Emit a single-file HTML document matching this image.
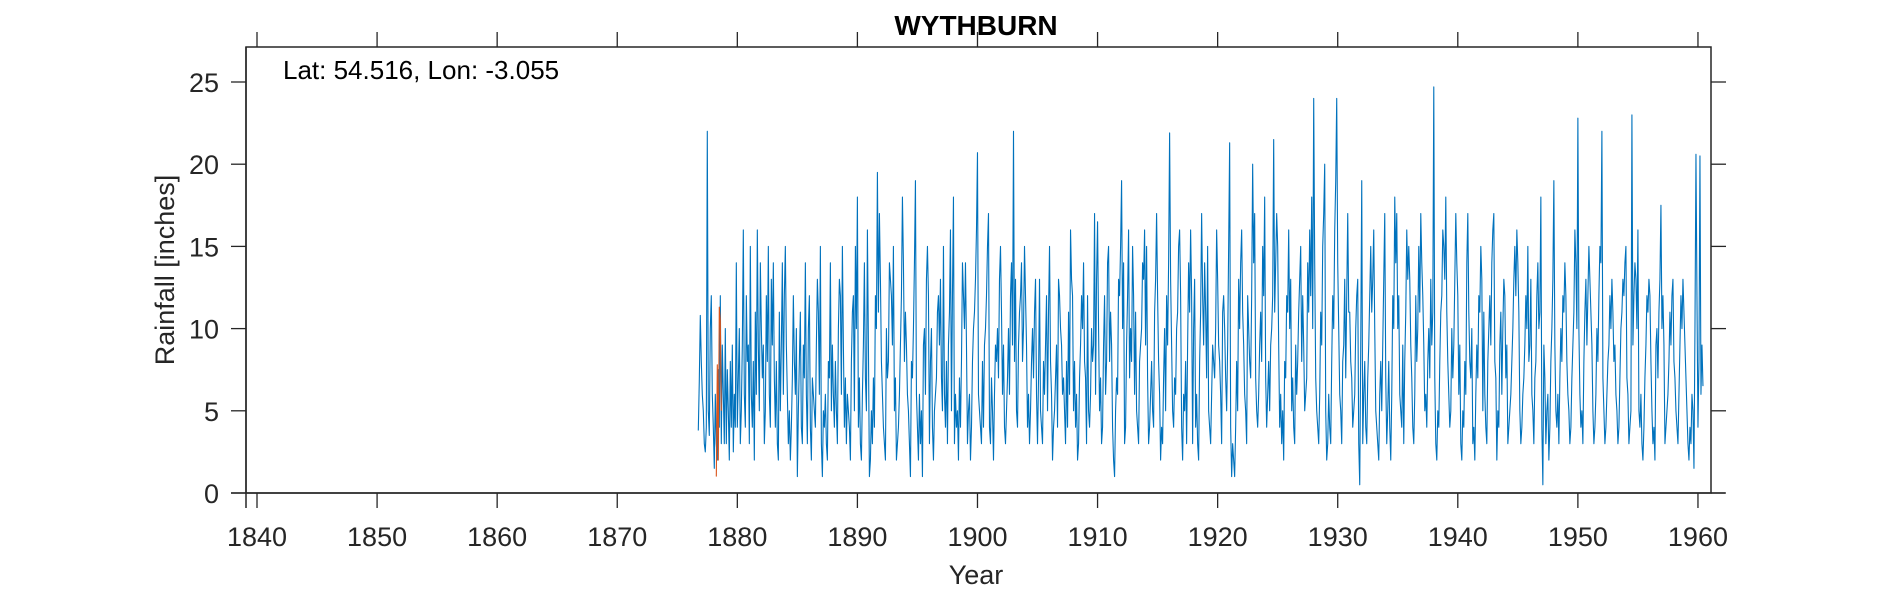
<!DOCTYPE html>
<html><head><meta charset="utf-8"><style>
body{margin:0;background:#fff;}
svg{display:block;font-family:"Liberation Sans",Arial,sans-serif;}
</style></head><body>
<svg id="chart" width="1890" height="591">
<rect width="1890" height="591" fill="#fff"/>
<g id="plot"></g>
<g id="axes"></g>
<text x="976" y="35" text-anchor="middle" font-size="28" font-weight="bold" fill="#000">WYTHBURN</text>
<text x="283" y="79" font-size="26" fill="#000">Lat: 54.516, Lon: -3.055</text>
<text x="976" y="584" text-anchor="middle" font-size="27" fill="#262626">Year</text>
<text x="0" y="0" transform="translate(174,270) rotate(-90)" text-anchor="middle" font-size="27" fill="#262626">Rainfall [inches]</text>
</svg>
<script>
const xTicks=[1840,1850,1860,1870,1880,1890,1900,1910,1920,1930,1940,1950,1960];
const yTicks=[0,5,10,15,20,25];
const blueStart=1876+9/12;
const blueValues=[3.8,6.8,10.8,
8,6,5,3,2.5,4,22,5,3.5,10,12,6,
4,1.5,6,3,2,7.5,4,12,3,9,6,3,
10,3,7.5,5,2,8,4,9,2.5,6,4,14,
4,7,10,3,5,9,16,6,4,12,8,9,
3,15,6,4,8,2,11,6,16,9,5,14,
10,7,9,3,5,12,8,15,6,4,13,9,
14,7,4,8,3,2,11,5,9,14,6,12,
15,9,6,3,5,2,4,7,12,8,6,10,
1,5,8,11,4,3,9,7,14,6,3,10,
12,4,2,7,6,5,4,9,13,11,6,15,
3,1,5,4,6,3,2,8,7,14,5,9,
6,4,8,5,3,10,13,12,6,15,9,4,
7,3,6,5,4,2,8,11,12,5,15,10,
18,4,7,3,2,6,9,14,7,5,16,9,
1,2,5,3,7,4,12,10,19.5,11,17,13,
8,6,4,3,2,10,7,8,14,13,12,9,
15,5,7,2,3,4,6,9,12,18,14,8,
11,9,6,5,3,1,8,7,10,14,19,6,
4,2,6,3,5,1,9,10,6,13,15,12,
3,8,10,4,2,5,6,7,11,12,9,13,
7,5,15,6,4,8,3,9,11,16,5,12,
18,3,6,4,5,2,7,4,8,14,12,10,
14,9,3,5,6,2,4,8,10,11,13,16,
20.7,6,5,4,3,8,4,9,10,12,15,17,
4,3,7,5,2,6,9,8,10,7,13,15,
11,6,9,4,3,5,7,10,6,12,14,9,
22,8,13,5,4,9,11,12,14,8,10,15,
12,9,4,6,3,5,8,10,7,11,13,6,
3,7,13,5,4,3,8,6,9,12,5,11,
15,8,6,2,4,5,7,9,4,13,12,10,
9,6,7,5,3,8,4,11,6,16,13,12,
5,8,4,6,2,3,7,9,12,10,14,8,
7,3,12,5,4,6,10,8,9,17,6,13,
16.5,10,5,7,3,4,9,12,6,8,14,15,
8,11,9,4,2,1,5,7,6,13,12,15,
19,10,14,3,4,9,12,16,7,10,8,15,
12,6,11,5,4,3,8,9,10,14,13,16,
9,15,7,3,4,6,8,5,4,11,13,17,
12,8,6,2,4,3,7,10,5,12,9,14,
21.9,13,9,5,4,7,6,10,11,15,16,12,
4,2,6,5,8,3,9,14,11,16,12,3,
10,13,4,6,3,2,8,11,17,12,9,14,
11,7,15,5,4,3,6,9,8,7,10,16,
13,9,8,6,3,11,12,10,7,5,9,15,
21.3,4,1,3,2,1,4,8,5,13,10,14,
16,11,9,6,5,3,12,10,8,7,12,20,
14,17,7,5,4,6,9,11,8,15,12,18,
7,4,6,8,5,9,10,12,21.5,11,14,17,
15,9,4,6,3,5,2,8,7,12,11,16,
10,13,5,7,4,3,9,6,8,11,13,15,
8,12,9,5,6,7,14,11,16,12,18,10,
24,14,7,5,4,3,6,11,9,15,17,20,
5,2,3,6,4,3,8,12,10,16,19,24,
14,10,6,5,3,8,9,13,7,12,17,11,
11,8,7,4,5,6,10,12,13,3,0.5,9,
19,3,6,8,4,3,7,9,12,15,11,13,
16,10,5,4,3,2,6,8,5,9,13,17,
7,3,5,8,4,2,6,12,10,18,14,17,
10,12,6,5,4,9,3,8,11,16,13,15,
13,9,7,4,3,6,12,8,10,15,11,17,
14,12,9,5,6,4,8,10,7,13,9,11,
24.7,7,3,2,5,4,8,11,12,16,15,13,
18,11,8,6,4,5,10,7,9,13,17,14,
12,6,9,3,2,5,4,8,6,14,17,11,
8,7,10,3,4,2,6,9,7,12,11,15,
13,5,11,6,4,3,8,10,12,9,14,16,
17,8,7,2,5,4,9,11,6,10,13,12,
7,9,3,4,5,6,8,10,13,15,12,16,
14,11,5,3,4,6,7,9,12,10,15,8,
9,13,6,5,3,7,8,12,14,10,11,18,
4,0.5,9,7,3,5,6,2,4,8,10,13,
19,9,5,4,6,3,7,10,8,12,11,14,
12,8,6,5,3,4,7,9,11,16,14,10,
22.8,10,6,4,5,3,8,11,13,9,12,15,
13,11,9,5,3,4,6,10,8,12,15,14,
22,7,5,3,4,6,8,9,12,10,13,11,
8,9,6,5,3,4,7,10,11,13,12,14,
15,7,6,3,4,5,23,9,12,14,13,10,
16,5,4,6,3,2,4,7,9,12,11,13,
12,8,5,3,4,2,9,10,7,11,13,17.5,
10,12,9,3,4,5,6,8,11,9,12,13,
8,7,5,4,3,6,9,12,10,13,11,9,
7,5,3,2,4,3,6,5,1.5,10,20.6,12,
4,8,20.5,6,9,6.5];
const redStart=1878+3/12;
const redValues=[1,7.8,2,11.3,10.5,5];

const L=246,R=1711,T=47,B=493;
function xs(yr){return 257+(yr-1840)*12.008;}
function ys(v){return B-v*16.44;}
const NS='http://www.w3.org/2000/svg';
const plot=document.getElementById('plot');
const axes=document.getElementById('axes');
function mk(tag,attrs,parent){const e=document.createElementNS(NS,tag);for(const k in attrs)e.setAttribute(k,attrs[k]);parent.appendChild(e);return e;}

function series(start,vals,color,name){
  let d='';
  vals.forEach((v,i)=>{d+=(i?'L':'M')+xs(start+i/12).toFixed(2)+','+ys(v).toFixed(2);});
  const p=mk('path',{d:d,fill:'none',stroke:color,'stroke-width':1.1,'stroke-linejoin':'round'},plot);
  
  
}
series(blueStart,blueValues,'#0072BD','rainfall-series');
series(redStart,redValues,'#D95319','secondary-series');

const box=mk('rect',{x:L,y:T,width:R-L,height:B-T,fill:'none',stroke:'#262626','stroke-width':1.5},axes);


const xl=mk('line',{x1:231,x2:1725,y1:B,y2:B,stroke:'#262626','stroke-width':1.5},axes);


const yl=mk('line',{x1:L,x2:L,y1:T,y2:508,stroke:'#262626','stroke-width':1.5},axes);



xTicks.forEach(t=>{
  const x=xs(t);
  const a=mk('line',{x1:x,x2:x,y1:B,y2:B+15,stroke:'#262626','stroke-width':1.3},axes);
  
  
  const b=mk('line',{x1:x,x2:x,y1:T,y2:T-15,stroke:'#262626','stroke-width':1.3},axes);
  
  
  const tx=mk('text',{x:x,y:546,'text-anchor':'middle','font-size':27,fill:'#262626'},axes);
  tx.textContent=t;
  
  
});
yTicks.forEach(t=>{
  const y=ys(t);
  const a=mk('line',{x1:L,x2:L-15,y1:y,y2:y,stroke:'#262626','stroke-width':1.3},axes);
  
  
  const b=mk('line',{x1:R,x2:R+15,y1:y,y2:y,stroke:'#262626','stroke-width':1.3},axes);
  
  
  const tx=mk('text',{x:219,y:y+10,'text-anchor':'end','font-size':27,fill:'#262626'},axes);
  tx.textContent=t;
  
  
});
</script>
</body></html>
